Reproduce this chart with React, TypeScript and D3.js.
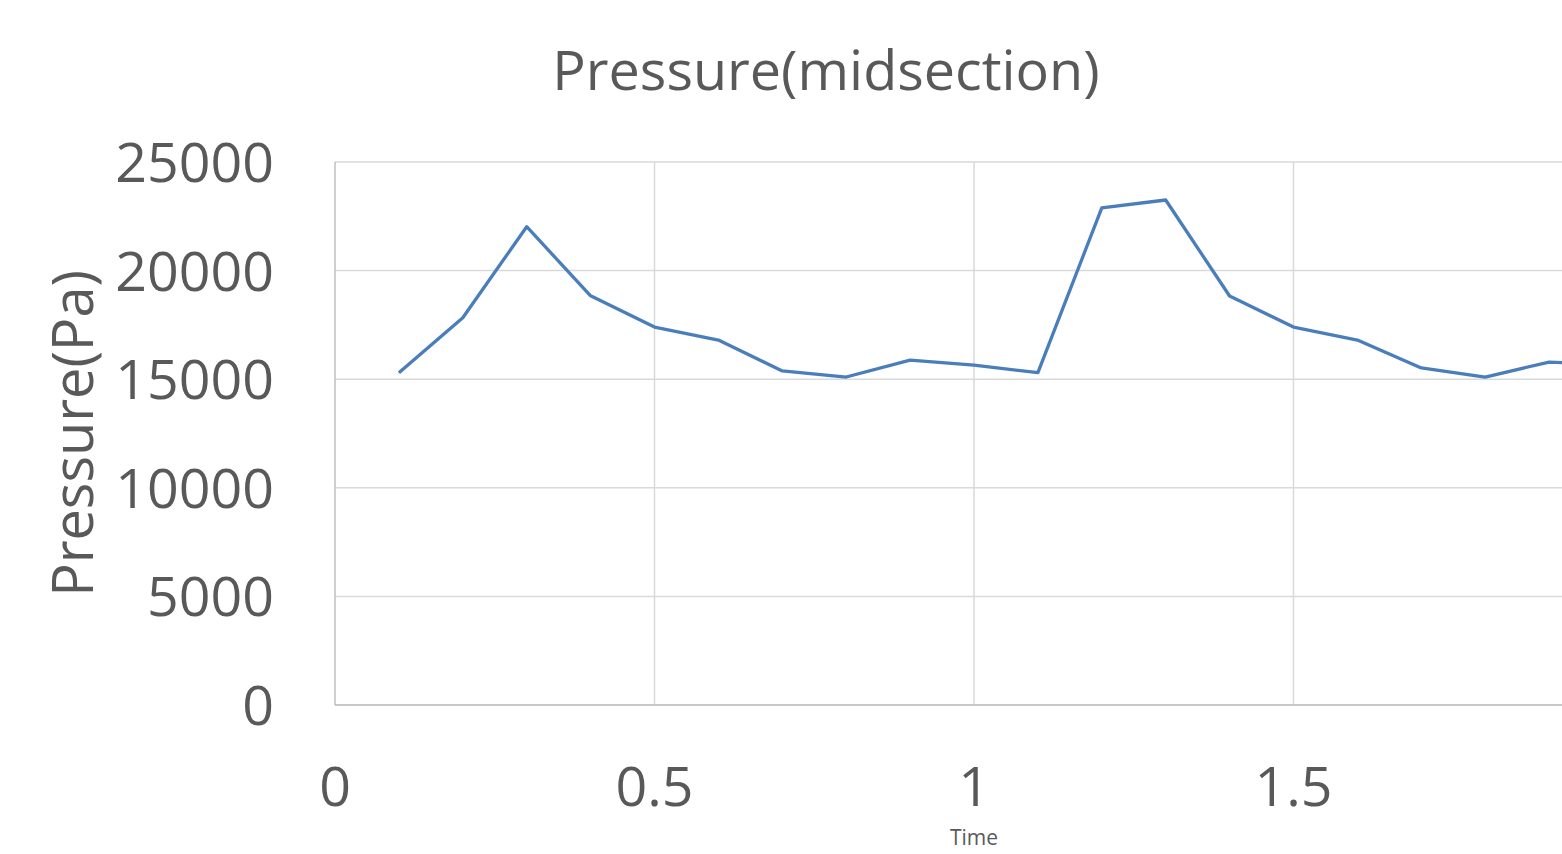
import React from "react";
import * as d3 from "d3";

const times = [0.1, 0.2, 0.3, 0.4, 0.5, 0.6, 0.7, 0.8, 0.9, 1.0, 1.1, 1.2, 1.3, 1.4, 1.5, 1.6, 1.7, 1.8, 1.9, 2.0];
const pressure = [15300, 17830, 22020, 18840, 17400, 16800, 15380, 15100, 15880, 15650, 15300, 22890, 23250, 18830, 17400, 16800, 15520, 15100, 15790, 15650];
const yTicks = [0, 5000, 10000, 15000, 20000, 25000];
const xTicks = [0, 0.5, 1, 1.5];
const xGrid = [0.5, 1, 1.5, 2];
const title = "Pressure(midsection)";
const yLabel = "Pressure(Pa)";
const xLabel = "Time";

const W = 1562;
const H = 854;
const FONT = "'Open Sans', 'Liberation Sans', sans-serif";
const TEXT = "#595959";
const GRID = "#d9d9d9";

export default function App() {
  const x = d3.scaleLinear().domain([0, 2]).range([335, 335 + 2 * 639]);
  const y = d3.scaleLinear().domain([0, 25000]).range([705, 162]);
  const line = d3
    .line<number>()
    .x((_, i) => x(times[i]))
    .y((d) => y(d));

  return (
    <svg
      width={W}
      height={H}
      style={{ position: "absolute", left: 0, top: 0, background: "#fff", overflow: "hidden" }}
      fontFamily={FONT}
    >
      <rect width={W} height={H} fill="#fff" />
      {yTicks.map((t) => (
        <line key={"gy" + t} x1={x(0)} x2={x(2)} y1={y(t)} y2={y(t)} stroke={GRID} strokeWidth={1.5} />
      ))}
      {xGrid.map((t) => (
        <line key={"gx" + t} x1={x(t)} x2={x(t)} y1={y(0)} y2={y(25000)} stroke={GRID} strokeWidth={1.5} />
      ))}
      <line x1={x(0)} x2={x(0)} y1={y(0)} y2={y(25000)} stroke="#bfbfbf" strokeWidth={1.5} />
      <line x1={x(0)} x2={x(2)} y1={y(0)} y2={y(0)} stroke="#bfbfbf" strokeWidth={1.5} />
      <path d={line(pressure) || ""} fill="none" stroke="#4a7ebb" strokeWidth={3.3} strokeLinejoin="round" />
      {yTicks.map((t) => (
        <text key={"ty" + t} x={274} y={y(t)} dy="0.36em" textAnchor="end" fontSize={55.5} fill={TEXT}>
          {t}
        </text>
      ))}
      {xTicks.map((t) => (
        <text key={"tx" + t} x={x(t)} y={806} textAnchor="middle" fontSize={55.5} fill={TEXT}>
          {t}
        </text>
      ))}
      <text x={826} y={90} textAnchor="middle" fontSize={55.7} fill={TEXT}>
        {title}
      </text>
      <text
        transform={`translate(93, ${(y(0) + y(25000)) / 2}) rotate(-90)`}
        textAnchor="middle"
        fontSize={55.8}
        fill={TEXT}
      >
        {yLabel}
      </text>
      <text x={974} y={845} textAnchor="middle" fontSize={21} fill={TEXT}>
        {xLabel}
      </text>
    </svg>
  );
}
